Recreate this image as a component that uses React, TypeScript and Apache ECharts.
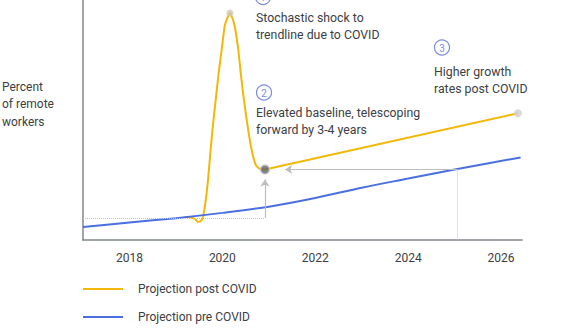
import React, { useEffect, useRef } from "react";
import * as echarts from "echarts";

// Years (x) and value (arbitrary % scale 0-100)
const preCovid: [number, number][] = [
  [2017.0, 5.4], [2018.0, 7.3], [2019.0, 9.1], [2020.0, 11.3], [2021.0, 13.9],
  [2022.0, 17.5], [2023.0, 21.8], [2024.0, 25.6], [2025.0, 29.4], [2026.42, 34.4],
];

// Post-COVID: the shock (curved) ...
const postCovidShock: [number, number][] = [
  [2019.19, 9.6], [2019.3, 9.45], [2019.41, 8.75], [2019.475, 7.5], [2019.555, 8.3],
  [2019.604, 11.7], [2019.68, 22.9], [2019.747, 37.5], [2019.797, 47.9], [2019.856, 58.3],
  [2019.915, 68.75], [2019.985, 79.2], [2020.055, 89.6], [2020.164, 94.6], [2020.26, 89.6],
  [2020.343, 79.2], [2020.4, 68.75], [2020.465, 58.3], [2020.54, 47.9], [2020.63, 37.5],
  [2020.72, 31.25], [2020.81, 29.6], [2020.917, 29.4],
];
// ... then the straight higher-growth trend
const postCovidTrend: [number, number][] = [
  [2020.917, 29.4], [2026.363, 52.8],
];

const yearTicks = [2018, 2020, 2022, 2024, 2026];
const peakIdx = 13;
const baselineOld = 9.2; // pre-COVID level at the start of the shock
const catchUpYear = 2025.05; // year the pre-COVID trend reaches the new baseline

const YELLOW = "#f2b807";
const BLUE = "#4a6fe0";
const TEXT = "#3c4043";
const GRAY = "#bdbdbd";
const CIRCLE = "#7d8ddf";
const FONT = "Roboto, 'Noto Sans', sans-serif";
const POST = "Projection post COVID";
const PRE = "Projection pre COVID";

export default function App() {
  const ref = useRef<HTMLDivElement>(null);
  useEffect(() => {
    if (!ref.current) return;
    const chart = echarts.init(ref.current, undefined, { renderer: "svg" });
    const base = postCovidTrend[0];
    const end = postCovidTrend[postCovidTrend.length - 1];
    const circ = (cx: number, cy: number, n: string) => ({
      type: "group",
      children: [
        { type: "circle", shape: { cx, cy, r: 7.5 }, style: { fill: "#fff", stroke: CIRCLE, lineWidth: 1.2 } },
        {
          type: "text", x: cx, y: cy + 0.5,
          style: { text: n, fill: CIRCLE, font: `10px ${FONT}`, align: "center", verticalAlign: "middle" },
        },
      ],
    });
    const txt = (x: number, y: number, t: string) => ({
      type: "text", x, y,
      style: { text: t, fill: TEXT, font: `12.3px ${FONT}`, lineHeight: 17, verticalAlign: "middle", align: "left" },
    });
    chart.setOption({
      animation: false,
      textStyle: { fontFamily: FONT },
      grid: { left: 83, right: 60, top: 0, bottom: 88, containLabel: false },
      xAxis: {
        type: "value", min: 2017, max: 2026.45, interval: 1,
        splitLine: { show: false }, axisTick: { show: false },
        axisLine: { lineStyle: { color: "#80868b", width: 1.5 } },
        axisLabel: {
          color: TEXT, fontSize: 12, margin: 12, showMaxLabel: false, showMinLabel: true,
          formatter: (v: number) => (yearTicks.includes(Math.round(v * 100) / 100) ? String(v) : ""),
        },
      },
      yAxis: {
        type: "value", min: 0, max: 100,
        splitLine: { show: false }, axisTick: { show: false }, axisLabel: { show: false },
        axisLine: { show: true, lineStyle: { color: "#80868b", width: 1.5 } },
      },
      legend: {
        orient: "vertical", left: 83, top: 282, itemWidth: 40, itemHeight: 2, itemGap: 14,
        padding: 0, icon: "rect",
        textStyle: { color: TEXT, fontSize: 12, lineHeight: 14, padding: [0, 0, 0, 10] },
        data: [POST, PRE],
        selectedMode: false,
      },
      series: [
        {
          name: POST, type: "line", data: postCovidShock, smooth: 0.2,
          showSymbol: false, lineStyle: { color: YELLOW, width: 2 }, itemStyle: { color: YELLOW }, z: 2,
        },
        {
          name: POST, type: "line", data: postCovidTrend, smooth: false,
          showSymbol: false, lineStyle: { color: YELLOW, width: 2 }, itemStyle: { color: YELLOW }, z: 2,
        },
        {
          name: PRE, type: "line", data: preCovid, smooth: 0.3,
          showSymbol: false, lineStyle: { color: BLUE, width: 2 }, itemStyle: { color: BLUE }, z: 3,
          markLine: {
            silent: true, animation: false, label: { show: false },
            data: [
              [
                { coord: [2017, baselineOld], symbol: "none", lineStyle: { type: "dotted", color: "#c4c4c4", width: 1 } },
                { coord: [base[0], baselineOld], symbol: "none" },
              ],
              [
                { coord: [base[0], baselineOld], symbol: "none", lineStyle: { type: "solid", color: GRAY, width: 1.2 } },
                { coord: [base[0], 25.2], symbol: "arrow", symbolSize: 7 },
              ],
              [
                { coord: [catchUpYear, base[1]], symbol: "none", lineStyle: { type: "solid", color: GRAY, width: 1.2 } },
                { coord: [2021.35, base[1]], symbol: "arrow", symbolSize: 7 },
              ],
              [
                { coord: [catchUpYear, base[1]], symbol: "none", lineStyle: { type: "dotted", color: "#c4c4c4", width: 1 } },
                { coord: [catchUpYear, 0], symbol: "none" },
              ],
            ],
          },
        },
        {
          type: "scatter", z: 5, silent: true,
          data: [
            { value: postCovidShock[peakIdx], symbolSize: 7, itemStyle: { color: "#cfc8b4" } },
            { value: base, symbolSize: 9, itemStyle: { color: "#5f6368", borderColor: "#c8c8c8", borderWidth: 1.5 } },
            { value: end, symbolSize: 8, itemStyle: { color: "#cfcfcf" } },
          ],
        },
      ],
      graphic: [
        {
          type: "text", x: 2, y: 104,
          style: { text: "Percent\nof remote\nworkers", fill: TEXT, font: `12px ${FONT}`, lineHeight: 17.5, verticalAlign: "middle" },
        },
        circ(263, -3, "1"),
        txt(256, 26.5, "Stochastic shock to\ntrendline due to COVID"),
        circ(264, 92.5, "2"),
        txt(256, 121.5, "Elevated baseline, telescoping\nforward by 3-4 years"),
        circ(442, 47.5, "3"),
        txt(434, 80.5, "Higher growth\nrates post COVID"),
      ],
    });
    return () => chart.dispose();
  }, []);
  return (
    <div
      ref={ref}
      style={{ position: "fixed", left: 0, top: 0, width: 582, height: 328, background: "#fff" }}
    />
  );
}
